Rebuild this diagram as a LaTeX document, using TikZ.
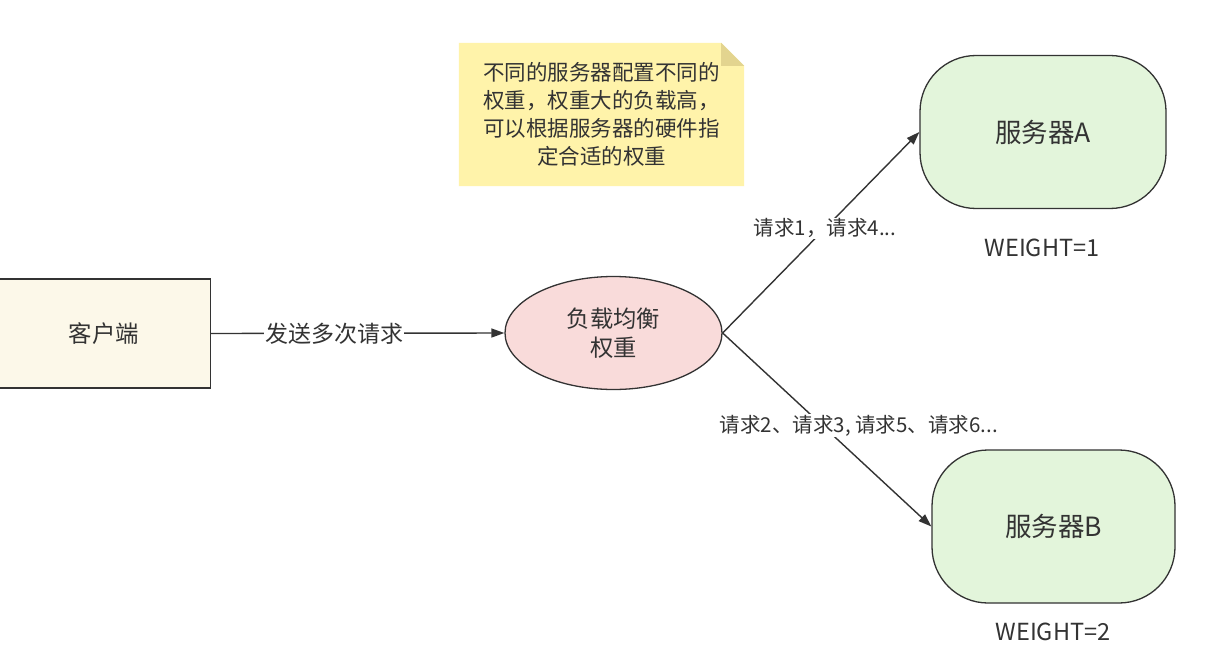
\documentclass[tikz,border=0pt]{standalone}
\usepackage{fontspec}
\setmainfont{Noto Sans CJK SC}
\usetikzlibrary{shapes.geometric,arrows.meta}
\definecolor{txt}{HTML}{333333}
\definecolor{clientfill}{HTML}{FCF8E9}
\definecolor{lbfill}{HTML}{F9DBDA}
\definecolor{srvfill}{HTML}{E3F5DB}
\definecolor{notefill}{HTML}{FFF3AA}
\definecolor{notefold}{HTML}{E3D48F}
\tikzset{
  box/.style={draw=txt, line width=1.3pt, text=txt, inner sep=0pt},
  conn/.style={draw=txt, line width=1.4pt, -{Triangle[length=13pt,width=9pt]}},
  lbl/.style={fill=white, text=txt, inner sep=1pt, font=\fontsize{20.5}{24}\selectfont},
  wlbl/.style={text=txt, font=\fontsize{23.5}{26}\selectfont},
}
\begin{document}
\begin{tikzpicture}[x=1pt,y=-1pt]
\useasboundingbox[fill=white] (0,0) rectangle (1214,655);
% client
\node[box, fill=clientfill, minimum width=213pt, minimum height=109pt,
      font=\fontsize{23.4}{26}\selectfont] (client) at (104,333.5) {客户端};
% load balancer
\node[box, ellipse, fill=lbfill, minimum width=217pt, minimum height=113pt,
      align=center, font=\fontsize{23.3}{29}\selectfont] (lb) at (613.5,333) {负载均衡\\权重};
% servers
\node[box, rounded corners=56pt, fill=srvfill, minimum width=246pt, minimum height=153pt,
      font=\fontsize{26.5}{30}\selectfont] (sa) at (1043,132) {服务器A};
\node[box, rounded corners=56pt, fill=srvfill, minimum width=243pt, minimum height=153pt,
      font=\fontsize{26.5}{30}\selectfont] (sb) at (1053.5,526.5) {服务器B};
\node[wlbl] (wa) at (1042,248) {WEIGHT=1};
\node[wlbl] (wb) at (1053,632) {WEIGHT=2};
% note
\node[minimum width=285pt, minimum height=143pt, inner sep=0pt] (note) at (601.5,114.5) {};
\fill[notefill] (note.north west) -- ([xshift=-23pt]note.north east) -- ([yshift=-23pt]note.north east)
  -- (note.south east) -- (note.south west) -- cycle;
\fill[notefold] ([xshift=-23pt]note.north east) -- ([xshift=-23pt,yshift=-23pt]note.north east)
  -- ([yshift=-23pt]note.north east) -- cycle;
\node[text=txt, align=center, font=\fontsize{21.5}{28}\selectfont] (notetext) at (note.center)
  {不同的服务器配置不同的\\权重，权重大的负载高，\\可以根据服务器的硬件指\\定合适的权重};
% connectors
\draw[conn] (client.east) -- node[lbl, pos=0.42, font=\fontsize{23}{26}\selectfont] {发送多次请求} (lb.west);
\draw[conn] (lb.east) -- node[lbl, pos=0.52] {请求1，请求4...} (sa.west);
\draw[conn] (lb.east) -- node[lbl, pos=0.48, xshift=36pt] {请求2、请求3, 请求5、请求6...} (sb.west);
\end{tikzpicture}
\end{document}
